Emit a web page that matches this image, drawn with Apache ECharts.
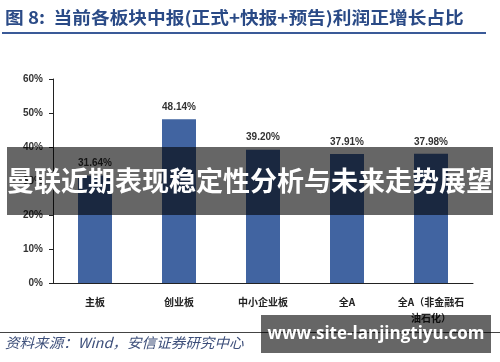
<!DOCTYPE html>
<html><head><meta charset="utf-8">
<script src="https://cdn.jsdelivr.net/npm/echarts@6/dist/echarts.min.js"></script>
<style>html,body{margin:0;padding:0;background:#fff}#c{width:500px;height:362px}</style>
</head><body><div id="c"></div>
<script>
const categories = ['主板', '创业板', '中小企业板', '全A', '全A（非金融石油石化）'];
const values = [31.64, 48.14, 39.20, 37.91, 37.98];
const yTicks = { min: 0, max: 60, interval: 10 };
const titleText = '图 8:  当前各板块中报(正式+快报+预告)利润正增长占比';
const sourceText = '资料来源：Wind，安信证券研究中心';
const bannerText = '曼联近期表现稳定性分析与未来走势展望';
const watermarkText = 'www.site-lanjingtiyu.com';

const chart = echarts.init(document.getElementById('c'), null, { renderer: 'canvas' });
chart.setOption({
  animation: false,
  backgroundColor: '#fff',
  grid: { left: 53, right: 27, top: 79, bottom: 79 },
  xAxis: {
    type: 'category', data: categories,
    axisLine: { lineStyle: { color: '#222', width: 1 } },
    axisTick: { inside: true, length: 4, lineStyle: { color: '#222' } },
    axisLabel: {
      interval: 0,
      color: '#222', fontSize: 10, fontWeight: 'bold', margin: 11, lineHeight: 16,
      fontFamily: 'Noto Sans CJK SC',
      formatter: v => v.length > 7 ? v.slice(0, 7) + '\n' + v.slice(7) : v
    }
  },
  yAxis: {
    type: 'value', min: yTicks.min, max: yTicks.max, interval: yTicks.interval,
    splitLine: { show: false },
    axisLine: { show: true, lineStyle: { color: '#222', width: 1 } },
    axisTick: { show: true, length: 4, lineStyle: { color: '#222' } },
    axisLabel: { formatter: '{value}%', color: '#333', fontSize: 10, fontWeight: 'bold', fontFamily: 'Arial, Liberation Sans', margin: 10 }
  },
  series: [{
    type: 'bar', data: values, barWidth: 34,
    itemStyle: { color: '#4164a1' },
    label: { show: true, position: 'top', distance: 7, formatter: p => p.value.toFixed(2) + '%',
      color: '#333', fontSize: 10, fontWeight: 'bold', fontFamily: 'Arial, Liberation Sans' }
  }],
  graphic: [
    { type: 'text', x: 5, y: 9, scaleX: 1.1, style: { text: titleText, fill: '#2a4a86', font: 'bold 17px "Noto Sans CJK SC"' } },
    { type: 'rect', shape: { x: 2, y: 32, width: 484, height: 2 }, style: { fill: '#3a5a98' } },
    { type: 'rect', shape: { x: 0, y: 332, width: 500, height: 1 }, style: { fill: '#444' } },
    { type: 'text', x: 5, y: 336, scaleX: 1.04, style: { text: sourceText, fill: '#3d4f7a', font: 'italic 14px "Noto Sans CJK SC"' } },
    { type: 'rect', shape: { x: 7, y: 147, width: 486, height: 68 }, style: { fill: 'rgba(0,0,0,0.6)' }, z: 100 },
    { type: 'text', x: 250, y: 181, z: 101, style: { text: bannerText, fill: '#fff', font: 'bold 27px "Noto Sans CJK SC"', textAlign: 'center', textVerticalAlign: 'middle' } },
    { type: 'rect', shape: { x: 261, y: 315, width: 230, height: 38 }, style: { fill: 'rgba(0,0,0,0.6)' }, z: 100 },
    { type: 'text', x: 376, y: 334, z: 101, style: { text: watermarkText, fill: '#fff', font: 'bold 17px "Open Sans", "Noto Sans"', textAlign: 'center', textVerticalAlign: 'middle' } }
  ]
});
</script></body></html>
